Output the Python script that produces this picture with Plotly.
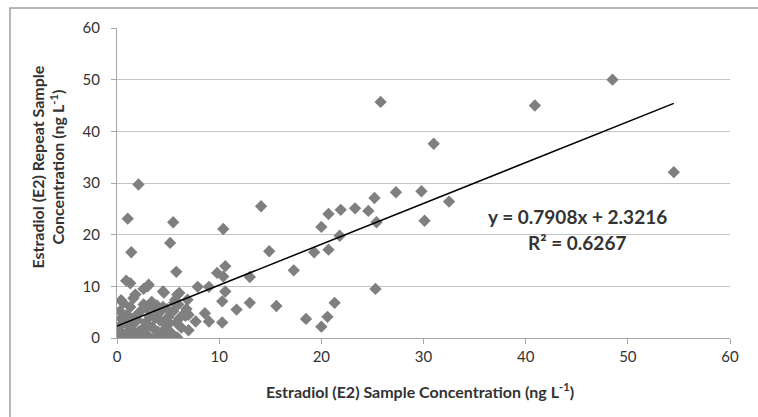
import plotly.graph_objects as go

# Estradiol (E2) concentrations: first sample vs repeat sample (ng/L)
sample_conc = [
    54.5, 48.5, 40.9, 31.0, 32.5, 25.8, 27.3, 29.8, 30.1, 25.2, 24.6, 25.4, 23.3,
    21.9, 20.7, 20.0, 21.8, 19.3, 20.7, 25.3, 17.3, 14.9, 14.1, 10.4, 21.3, 20.6,
    20.0, 18.5, 15.6, 13.0, 11.7, 13.0, 10.6, 10.4, 10.6, 10.3, 10.3, 9.8, 7.9,
    9.0, 7.0, 7.7, 8.6, 9.0,
    2.1, 1.05, 5.5, 5.2, 1.4, 5.8, 0.9, 1.3, 3.0, 2.6, 3.1, 0.4, 4.6, 6.1, 5.7,
    1.6, 1.8, 6.7, 4.5, 5.9, 6.9,
    0.0, 0.2, 0.5, 0.8, 1.0, 1.2, 1.5, 1.8, 2.0, 2.2, 2.5, 2.8, 3.0, 3.2, 3.5,
    3.8, 4.0, 4.2, 4.5, 4.8, 5.0, 5.3, 5.5, 5.8, 6.0, 6.3, 6.6, 7.0, 0.3, 0.6,
    1.3, 2.6, 3.4, 1.6, 2.3, 4.4, 5.9, 0.9, 3.7, 2.9, 1.1, 0.1, 0.4, 1.7, 2.1,
    3.1, 4.1, 4.6, 5.1, 6.1, 6.8, 3.9, 4.9, 5.6, 2.1, 3.75, 5.05, 0.0, 1.0,
]
repeat_conc = [
    32.1, 50.0, 45.0, 37.6, 26.4, 45.7, 28.2, 28.4, 22.7, 27.1, 24.6, 22.4, 25.1,
    24.8, 24.0, 21.5, 19.8, 16.6, 17.1, 9.5, 13.1, 16.8, 25.5, 21.1, 6.8, 4.1,
    2.2, 3.7, 6.2, 6.8, 5.5, 11.8, 13.9, 11.9, 9.0, 7.1, 3.0, 12.6, 9.9,
    9.9, 4.5, 3.2, 4.8, 3.2,
    29.7, 23.1, 22.4, 18.4, 16.6, 12.8, 11.1, 10.6, 10.0, 9.5, 10.3, 7.3, 8.8, 8.7, 7.4,
    7.7, 8.4, 4.3, 9.0, 8.4, 7.4,
    0.0, 2.2, 1.0, 3.0, 4.5, 1.5, 2.5, 0.8, 3.5, 5.0, 1.8, 3.0, 0.5, 4.2, 2.0,
    5.5, 1.2, 3.4, 6.0, 2.5, 4.0, 1.0, 5.2, 3.0, 6.5, 2.0, 4.8, 1.5, 5.2, 6.8,
    6.0, 6.5, 7.0, 0.2, 0.3, 0.2, 0.1, 0.6, 3.8, 5.8, 2.8, 1.2, 3.8, 4.0, 1.2,
    2.4, 4.8, 1.6, 2.8, 3.8, 5.6, 6.3, 5.6, 6.8, 0.3, 0.2, 0.3, 0.3, 0.2,
]

# Linear trend line as reported by the regression
slope = 0.7908
intercept = 2.3216
r_squared = 0.6267

x_ticks = [0, 10, 20, 30, 40, 50, 60]
y_ticks = [0, 10, 20, 30, 40, 50, 60]

font_family = "Lato, 'Open Sans', sans-serif"
text_color = "#333333"

fig = go.Figure()

fig.add_trace(go.Scatter(
    x=sample_conc, y=repeat_conc, mode="markers",
    marker=dict(symbol="diamond", size=9.5, color="#7f7f7f", line=dict(width=0)),
    showlegend=False, hoverinfo="skip",
))

x_lo, x_hi = min(sample_conc), max(sample_conc)
fig.add_trace(go.Scatter(
    x=[x_lo, x_hi], y=[slope * x_lo + intercept, slope * x_hi + intercept],
    mode="lines", line=dict(color="black", width=1.5),
    showlegend=False, hoverinfo="skip",
))

fig.update_layout(
    width=758, height=417,
    margin=dict(l=117, r=28, t=28, b=79),
    paper_bgcolor="white", plot_bgcolor="white",
    font=dict(family=font_family, size=15, color=text_color),
    xaxis=dict(
        range=[0, 60], tickvals=x_ticks, ticktext=[str(v) for v in x_ticks],
        showgrid=False, zeroline=False,
        showline=True, linecolor="#a6a6a6", linewidth=1,
        ticks="outside", ticklen=5, tickcolor="#a6a6a6",
        tickfont=dict(size=15, color=text_color),
    ),
    yaxis=dict(
        range=[0, 60], tickvals=y_ticks, ticktext=[str(v) for v in y_ticks],
        showgrid=True, gridcolor="#c4c4c4", gridwidth=1, zeroline=False,
        showline=True, linecolor="#a6a6a6", linewidth=1,
        ticks="outside", ticklen=5, tickcolor="#a6a6a6",
        ticklabelstandoff=8,
        tickfont=dict(size=15, color=text_color),
    ),
    shapes=[dict(
        type="rect", xref="paper", yref="paper",
        x0=-0.1746, y0=-0.4, x1=1.2, y1=1.0645,
        line=dict(color="#a0a0a0", width=1.5), fillcolor="rgba(0,0,0,0)",
        layer="below",
    )],
    annotations=[
        dict(
            text="Estradiol (E2) Sample Concentration (ng L<sup>-1</sup>)",
            xref="paper", yref="paper", x=0.495, y=-0.17,
            xanchor="center", yanchor="middle", showarrow=False,
            font=dict(size=16, color=text_color, family=font_family, weight="bold"),
        ),
        dict(
            text="Estradiol (E2) Repeat Sample<br>Concentration (ng L<sup>-1</sup>)",
            xref="paper", yref="paper", x=-0.114, y=0.55,
            xanchor="center", yanchor="middle", textangle=-90, showarrow=False,
            font=dict(size=16, color=text_color, family=font_family, weight="bold"),
        ),
        dict(
            text=f"y = {slope:.4f}x + {intercept:.4f}",
            xref="paper", yref="paper", x=0.751, y=0.393,
            xanchor="center", yanchor="middle", showarrow=False,
            font=dict(size=19, color=text_color, family=font_family, weight="bold"),
        ),
        dict(
            text=f"R\u00b2 = {r_squared:.4f}",
            xref="paper", yref="paper", x=0.751, y=0.307,
            xanchor="center", yanchor="middle", showarrow=False,
            font=dict(size=19, color=text_color, family=font_family, weight="bold"),
        ),
    ],
)

fig.write_html("out.html")
